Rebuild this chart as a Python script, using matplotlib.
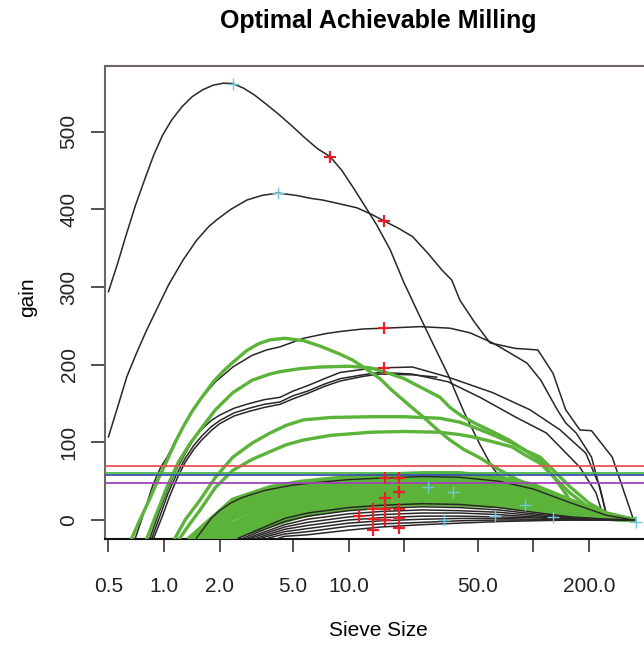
import matplotlib
matplotlib.use("Agg")
import matplotlib.pyplot as plt
from matplotlib.ticker import FixedLocator, NullLocator

plt.rcParams['font.family'] = ['Liberation Sans', 'DejaVu Sans']

# ---------------- data ----------------
title = "Optimal Achievable Milling"
xlabel = "Sieve Size"
ylabel = "gain"
xticks = [0.5, 1, 2, 5, 10, 20, 50, 100, 200]
xticklabels = ["0.5", "1.0", "2.0", "5.0", "10.0", "", "50.0", "", "200.0"]
yticks = [0, 100, 200, 300, 400, 500]

# black curves (large)
blkA_x = [0.5, 0.56, 0.62, 0.70, 0.79, 0.88, 0.98, 1.10, 1.25, 1.42, 1.62, 1.85, 2.1, 2.36, 2.7, 3.1, 3.6,
          4.2, 4.9, 5.8, 6.8, 7.93, 9.2, 10.6, 12.2, 14.2, 16.8, 20, 24, 28.5, 34.6, 42, 51.5, 60, 70, 85,
          110, 150, 260, 350]
blkA_y = [294, 330, 365, 405, 440, 470, 495, 515, 532, 545, 554, 560, 562.5, 562, 556, 547, 535,
          522, 508, 492, 478, 468, 450, 428, 405, 380, 348, 305, 265, 228, 187, 140, 97, 68, 48, 28,
          14, 7, 2, 0]
blkB_x = [0.5, 0.56, 0.63, 0.71, 0.80, 0.92, 1.06, 1.27, 1.5, 1.75, 1.94, 2.3, 2.81, 3.4, 4.15, 5.2, 6.3,
          7.24, 9.0, 11.1, 13.2, 15.6, 18.5, 22.2, 27, 32, 36.2, 40.1, 48, 58.4, 80, 106, 128, 150, 179,
          207, 268, 350]
blkB_y = [107, 145, 185, 215, 243, 273, 303, 335, 360, 378, 387, 400, 412, 418, 421, 418, 414,
          412, 407, 402, 394, 385, 376, 365, 343, 322, 309, 283, 255, 228, 221, 219, 189, 142, 116,
          115, 81, 0]
blkC_x = [0.70, 0.78, 0.87, 0.96, 1.04, 1.2, 1.38, 1.57, 1.9, 2.36, 3.0, 3.6, 4.25, 5.7, 7.5, 9.2, 12,
          15.6, 24.4, 35.4, 45.5, 60.4, 75, 92.6, 110, 135, 150, 171, 207, 230, 251]
blkC_y = [-23, 10, 45, 68, 81, 110, 135, 155, 178, 197, 212, 219, 223, 234, 240, 243, 246,
          247, 249, 247, 241, 228, 215, 202, 180, 142, 125, 112, 81, 40, 4]
blkD_x = [0.84, 0.94, 1.04, 1.16, 1.3, 1.43, 1.57, 1.8, 2.0, 2.4, 2.9, 3.5, 4.25, 5.0, 6.0, 7.4, 9.0,
          12, 15.6, 22.2, 34.6, 60.4, 96, 140, 193, 230, 251]
blkD_y = [-23, 10, 38, 64, 85, 102, 115, 128, 135, 144, 150, 155, 158, 166, 173, 182, 190,
          194, 196, 197, 184, 164, 142, 116, 86, 42, 4]
blkE_x = [0.86, 0.96, 1.05, 1.17, 1.3, 1.45, 1.6, 1.8, 2.0, 2.4, 2.9, 3.5, 4.25, 5.0, 6.0, 7.4, 9.0,
          12, 14.8, 22.0, 34.6, 51.5, 79.6, 118, 179, 219, 240]
blkE_y = [-23, 8, 34, 59, 79, 96, 108, 120, 128, 138, 144, 149, 152, 160, 166, 175, 182,
          187, 190, 188, 178, 158, 133, 112, 68, 35, 4]
blkF_x = [0.88, 0.98, 1.07, 1.18, 1.3, 1.45, 1.6, 1.8, 2.0, 2.4, 2.9, 3.5, 4.25, 5.0, 6.0, 7.4, 9.0,
          12, 14.8, 22.0, 30.0]
blkF_y = [-23, 5, 30, 54, 74, 91, 103, 115, 124, 134, 140, 145, 149, 156, 163, 172, 179,
          185, 188, 187, 184]
blkG_x = [1.5, 1.65, 1.8, 2.0, 2.3, 2.6, 2.9, 3.5, 4.25, 5.0, 6.0, 8, 10, 15, 25, 40, 65, 100, 160,
          250, 350]
blkG_y = [-23, -10, 2, 12, 22, 28, 32, 38, 42, 45, 47, 50, 52, 54, 56, 55, 50, 40, 22, 6, 0]

# green curves (large)
grn1_x = [0.67, 0.74, 0.84, 0.94, 1.04, 1.15, 1.27, 1.42, 1.57, 1.85, 2.1, 2.36, 2.8, 3.25, 3.75, 4.5,
          5.7, 7.0, 8.9, 10.5, 12.0, 14.8, 17, 19.0, 22, 25.6, 30, 35.4, 42, 51.5, 65, 82, 100, 123,
          160, 200, 260, 350]
grn1_y = [-23, 0, 28, 55, 77, 100, 120, 140, 155, 178, 192, 203, 218, 227, 232, 234,
          231, 224, 214, 206, 197, 182, 168, 158, 145, 132, 117, 103, 91, 80, 65, 52, 43, 34,
          22, 12, 4, 0]
grn2_x = [0.81, 0.9, 1.04, 1.2, 1.38, 1.57, 1.9, 2.36, 3.0, 3.75, 4.25, 5.5, 7.0, 10, 13.1, 16, 20,
          25, 31.3, 35.4, 41, 48, 60, 74, 90, 109, 130, 158, 200, 251, 350]
grn2_y = [-23, 5, 43, 75, 98, 116, 142, 164, 180, 188, 191, 195, 197, 198, 196, 190, 182,
          170, 158, 145, 134, 125, 114, 103, 90, 77, 55, 26, 12, 4, 0]
grn3_x = [1.15, 1.3, 1.45, 1.57, 1.9, 2.36, 3.0, 3.75, 4.6, 5.7, 8, 13.1, 20, 31.3, 40, 47, 60, 77,
          90, 109, 130, 158, 200, 251, 350]
grn3_y = [-23, 0, 15, 26, 55, 81, 99, 112, 122, 129, 132, 133, 133, 131, 126, 120, 110, 99,
          90, 81, 63, 43, 22, 9, 0]
grn4_x = [1.22, 1.38, 1.57, 1.9, 2.36, 3.0, 3.75, 4.6, 5.7, 8, 13.1, 20, 31.3, 40, 47, 60, 77, 90,
          109, 130, 158, 200, 251, 350]
grn4_y = [-23, -5, 13, 42, 64, 78, 88, 97, 103, 109, 113, 114, 113, 110, 107, 101, 94, 84,
          73, 55, 35, 16, 6, 0]

# green bundle (x grid shared except the start)
gb_grid = [2.36, 3.75, 5.5, 9, 15, 25, 40, 65, 100, 160, 250, 350]
gb_start = [1.38, 1.45, 1.55, 1.65, 1.75, 1.85, 1.95, 2.05, 2.15, 2.25, 2.32]
gb_vals = [
    [26, 42, 49, 54, 58, 60, 60, 55, 45, 25, 8, 0],
    [20, 38, 46, 51, 55, 57, 57, 52, 42, 22, 7, 0],
    [14, 33, 42, 48, 52, 54, 53, 48, 38, 20, 6, 0],
    [8, 28, 38, 44, 48, 50, 49, 44, 34, 18, 5, 0],
    [2, 23, 33, 40, 44, 46, 45, 40, 30, 16, 5, 0],
    [-5, 18, 29, 36, 40, 42, 41, 36, 27, 14, 4, 0],
    [-10, 13, 24, 32, 36, 38, 37, 32, 24, 12, 4, 0],
    [-15, 8, 20, 28, 32, 34, 33, 29, 21, 11, 3, 0],
    [-19, 3, 15, 24, 28, 30, 29, 25, 18, 9, 3, 0],
    [-21, -2, 10, 19, 24, 26, 25, 22, 16, 8, 2, 0],
    [-22.5, -7, 5, 14, 19, 21, 20, 18, 13, 7, 2, 0],
]

# black bundle at the bottom
bb_grid = [4.5, 6, 10, 15, 25, 40, 65, 100, 160, 250, 350]
bb_start = [2.55, 2.7, 2.85, 3.0, 3.2, 3.4, 3.7, 4.2]
bb_vals = [
    [2, 9, 16, 19, 21, 20, 16, 10, 4, 1, 0],
    [-2, 5, 12, 15, 17, 16, 13, 8, 3, 1, 0],
    [-6, 1, 8, 11, 13, 12, 10, 6, 2, 0, 0],
    [-9, -3, 4, 7, 9, 9, 7, 4, 2, 0, 0],
    [-12, -7, 0, 3, 5, 5, 4, 3, 1, 0, 0],
    [-15, -11, -4, -1, 1, 2, 2, 1, 1, 0, 0],
    [-18, -15, -8, -5, -3, -1, 0, 0, 0, 0, 0],
    [-21, -19, -13, -9, -6, -4, -2, -1, 0, 0, 0],
]

# horizontal reference lines
hline_vals = [70, 60.5, 58.6, 47.6]
hline_cols = ["#e8505a", "#4cb848", "#3a52b0", "#a044b8"]

# red "+" markers
red_x = [7.93, 15.6, 15.6, 15.6, 15.8, 18.7, 18.7, 15.8, 13.6, 15.8, 18.7, 11.4, 13.6, 15.8, 18.7, 13.6, 18.7]
red_y = [468, 385, 247, 196, 54, 54, 36, 28, 14, 14, 14, 5, 1, 0, 3, -13, -10]
# cyan "+" markers
cyan_x = [2.36, 4.15, 27, 37, 33, 62, 90, 128, 360]
cyan_y = [562, 421, 43, 36, 0, 5, 19, 4, -2]

# ---------------- plot ----------------
fig = plt.figure(figsize=(6.44, 6.46), dpi=100)
ax = fig.add_axes([105/644, (646-538.5)/646, (655-105)/644, (538.5-66)/646])
ax.set_xscale('log')

BLK = '#2a2626'
GRN = '#5cb33a'

for xs, ys in [(blkA_x, blkA_y), (blkB_x, blkB_y), (blkC_x, blkC_y),
               (blkD_x, blkD_y), (blkE_x, blkE_y), (blkF_x, blkF_y)]:
    ax.plot(xs, ys, color=BLK, lw=1.1, zorder=2)

for xs, ys in [(grn1_x, grn1_y), (grn2_x, grn2_y), (grn3_x, grn3_y), (grn4_x, grn4_y)]:
    ax.plot(xs, ys, color=GRN, lw=2.4, zorder=3)

for x0, vals in zip(gb_start, gb_vals):
    ax.plot([x0] + gb_grid, [-23] + vals, color=GRN, lw=3.4, zorder=3)

ax.plot(blkG_x, blkG_y, color=BLK, lw=1.0, zorder=3.5)

for x0, vals in zip(bb_start, bb_vals):
    ax.plot([x0] + bb_grid, [-23] + vals, color=BLK, lw=1.1, zorder=4)

for v, c in zip(hline_vals, hline_cols):
    ax.axhline(v, color=c, lw=1.3, zorder=5)

ax.plot(red_x, red_y, ls='none', marker='+', ms=9, mew=1.6, color='#e8202a', zorder=6)
ax.plot(cyan_x, cyan_y, ls='none', marker='+', ms=8, mew=1.0, color='#6ec8e0', zorder=6)

ax.set_xlim(0.479, 457)
ax.set_ylim(-23.8, 584.6)

ax.xaxis.set_major_locator(FixedLocator(xticks))
ax.xaxis.set_minor_locator(NullLocator())
ax.set_xticklabels(xticklabels)
ax.set_yticks(yticks)
ax.set_yticklabels([str(v) for v in yticks], rotation=90, va='center')
ax.tick_params(axis='x', direction='out', length=9, width=1.1, pad=19, labelsize=15, colors='#222')
ax.tick_params(axis='y', direction='out', length=10, width=1.1, pad=9, labelsize=15, colors='#222')

for s in ['top', 'right', 'left']:
    ax.spines[s].set_color('#6e6462')
    ax.spines[s].set_linewidth(1.5)
ax.spines['bottom'].set_color('#111')
ax.spines['bottom'].set_linewidth(1.5)

fig.text(378/644, 1 - 21/646, title, ha='center', va='center', fontsize=18, fontweight='bold')
fig.text(378/644, 1 - 630/646, xlabel, ha='center', va='center', fontsize=15)
fig.text(28/644, 1 - 297/646, ylabel, ha='center', va='center', fontsize=15, rotation=90)

fig.savefig('out.png', dpi=100)
